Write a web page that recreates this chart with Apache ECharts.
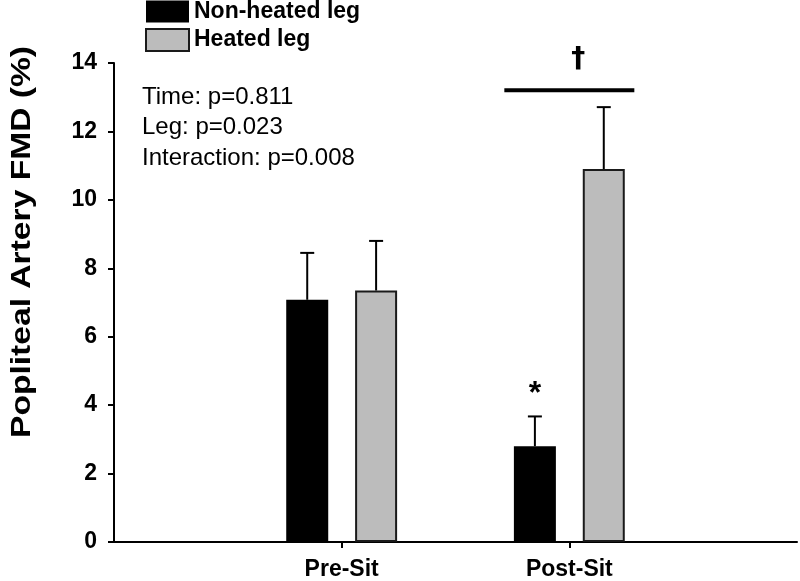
<!DOCTYPE html>
<html>
<head>
<meta charset="utf-8">
<script src="https://cdn.jsdelivr.net/npm/echarts@6/dist/echarts.min.js"></script>
<style>
html,body{margin:0;padding:0;background:#fff;}
#chart{width:800px;height:581px;}
</style>
</head>
<body>
<div id="chart"></div>
<script>
const categories = ['', 'Pre-Sit', 'Post-Sit', ''];
const seriesNames = ['Non-heated leg', 'Heated leg'];
const nonHeated = [null, 7.08, 2.80, null];
const heated = [null, 7.35, 10.90, null];
const nonHeatedErr = [null, 1.37, 0.87, null];
const heatedErr = [null, 1.45, 1.81, null];
const yTicks = [0, 14, 2];
const statsText = ['Time: p=0.811', 'Leg: p=0.023', 'Interaction: p=0.008'];
const yTitle = 'Popliteal Artery FMD (%)';

const BAR_W = 42, BAR_GAP = '64%';

function errData(vals, errs) {
  const out = [];
  vals.forEach((v, i) => { if (v != null) out.push([i, v, errs[i]]); });
  return out;
}
function errRender(idx) {
  return function (params, api) {
    const i = api.value(0), v = api.value(1), e = api.value(2);
    let off;
    try {
      const lay = api.barLayout({ barWidth: BAR_W, barGap: BAR_GAP, count: 2 });
      off = lay[idx].offsetCenter;
    } catch (err) {
      const total = BAR_W * 2 + BAR_W * 0.64;
      off = -total / 2 + BAR_W / 2 + idx * (BAR_W * 1.64);
    }
    const base = api.coord([i, v]);
    const top = api.coord([i, v + e]);
    const x = base[0] + off;
    return {
      type: 'group',
      children: [
        { type: 'line', shape: { x1: x, y1: base[1], x2: x, y2: top[1] }, style: { stroke: '#000', lineWidth: 2 } },
        { type: 'line', shape: { x1: x - 7, y1: top[1], x2: x + 7, y2: top[1] }, style: { stroke: '#000', lineWidth: 2 } }
      ]
    };
  };
}

const chart = echarts.init(document.getElementById('chart'));
const option = {
  animation: false,
  backgroundColor: '#fff',
  grid: { left: 114, right: 0, top: 63, bottom: 38, containLabel: false },
  legend: {
    orient: 'vertical', left: 145, top: 0, padding: 0, itemWidth: 43, itemHeight: 22, itemGap: 5,
    icon: 'rect', selectedMode: false,
    textStyle: { fontFamily: 'Liberation Sans', fontWeight: 'bold', fontSize: 23, color: '#000' },
    data: seriesNames
  },
  xAxis: {
    type: 'category', data: categories, boundaryGap: false,
    axisLine: { lineStyle: { color: '#000', width: 2 } },
    axisTick: { length: 6, lineStyle: { color: '#000', width: 2 }, interval: (i) => i === 1 || i === 2 },
    axisLabel: { interval: 0, margin: 16, fontFamily: 'Liberation Sans', fontWeight: 'bold', fontSize: 23, color: '#000' },
    splitLine: { show: false }
  },
  yAxis: {
    type: 'value', min: yTicks[0], max: yTicks[1], interval: yTicks[2],
    axisLine: { show: true, lineStyle: { color: '#000', width: 2 } },
    axisTick: { show: true, length: 6, lineStyle: { color: '#000', width: 2 } },
    axisLabel: { margin: 17, fontFamily: 'Liberation Sans', fontWeight: 'bold', fontSize: 23, color: '#000' },
    splitLine: { show: false }
  },
  series: [
    { name: seriesNames[0], type: 'bar', data: nonHeated, barWidth: BAR_W, barGap: BAR_GAP,
      itemStyle: { color: '#000' } },
    { name: seriesNames[1], type: 'bar', data: heated, barWidth: BAR_W, barGap: BAR_GAP,
      itemStyle: { color: '#bcbcbc', borderColor: '#1a1a1a', borderWidth: 2 } },
    { type: 'custom', data: errData(nonHeated, nonHeatedErr), renderItem: errRender(0), z: 5 },
    { type: 'custom', data: errData(heated, heatedErr), renderItem: errRender(1), z: 5 }
  ]
};
chart.setOption(option);

// annotations positioned from the axes
const p = (c, v) => chart.convertToPixel({ xAxisIndex: 0, yAxisIndex: 0 }, [c, v]);
const postTop = p(2, 13.2);
const starPos = p(2, nonHeated[2] + nonHeatedErr[2]);
const barOff = (BAR_W * 1.64) / 2;
const graphics = [
  { type: 'text', x: 22, y: 242, rotation: Math.PI / 2, scaleX: 1.2,
    style: { text: yTitle, fontFamily: 'Liberation Sans', fontWeight: 'bold', fontSize: 28, fill: '#000', textAlign: 'center', textVerticalAlign: 'middle' } },
  { type: 'line', shape: { x1: postTop[0] - 65, y1: postTop[1], x2: postTop[0] + 65, y2: postTop[1] }, style: { stroke: '#000', lineWidth: 4 } },
  { type: 'text', x: postTop[0] + 9, y: postTop[1] - 31,
    style: { text: '†', fontFamily: 'DejaVu Sans', fontWeight: 'bold', fontSize: 28, fill: '#000', textAlign: 'center', textVerticalAlign: 'middle' } },
  { type: 'text', x: starPos[0] - barOff, y: starPos[1] - 22,
    style: { text: '*', fontFamily: 'Liberation Sans', fontWeight: 'bold', fontSize: 32, fill: '#000', textAlign: 'center', textVerticalAlign: 'middle' } }
];
statsText.forEach((t, i) => {
  graphics.push({ type: 'text', x: 142, y: 97 + i * 30.5,
    style: { text: t, fontFamily: 'Liberation Sans', fontSize: 24, fill: '#000', textAlign: 'left', textVerticalAlign: 'middle' } });
});
chart.setOption({ graphic: graphics });
</script>
</body>
</html>
